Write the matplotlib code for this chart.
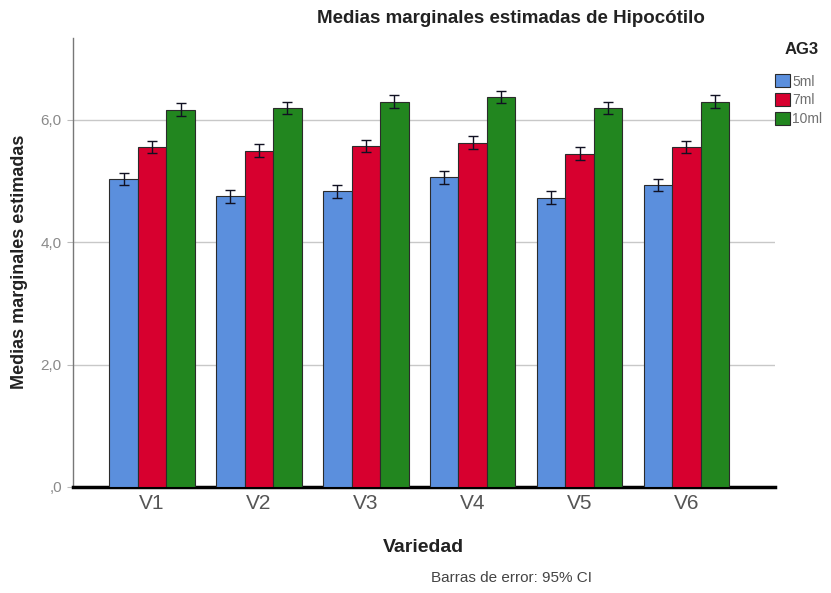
import matplotlib
matplotlib.use("Agg")
import matplotlib.pyplot as plt
import numpy as np

plt.rcParams['font.family'] = ['Liberation Sans', 'DejaVu Sans']

categories = ["V1", "V2", "V3", "V4", "V5", "V6"]
groups = ["5ml", "7ml", "10ml"]
means_5ml = [5.04, 4.75, 4.83, 5.06, 4.73, 4.94]
means_7ml = [5.56, 5.50, 5.58, 5.63, 5.45, 5.56]
means_10ml = [6.17, 6.19, 6.30, 6.38, 6.20, 6.30]
ci_5ml = [0.10, 0.10, 0.10, 0.10, 0.10, 0.10]
ci_7ml = [0.10, 0.10, 0.10, 0.10, 0.10, 0.10]
ci_10ml = [0.10, 0.10, 0.10, 0.10, 0.10, 0.10]
yticks = [0, 2, 4, 6]
ytick_labels = [",0", "2,0", "4,0", "6,0"]

colors = ["#5b8fdd", "#d7002f", "#22861f"]
edge = "#2b2b2b"

fig = plt.figure(figsize=(8.31, 5.93), dpi=100)
ax = fig.add_axes([0.0878, 0.1788, 0.845, 0.7572])

x = np.arange(len(categories))
w = 0.267
series = [(means_5ml, ci_5ml), (means_7ml, ci_7ml), (means_10ml, ci_10ml)]
handles = []
for i, (m, c) in enumerate(series):
    pos = x + (i - 1) * w
    b = ax.bar(pos, m, width=w, color=colors[i], edgecolor=edge, linewidth=0.8, zorder=3, label=groups[i])
    ax.errorbar(pos, m, yerr=c, fmt='none', ecolor='#111122', elinewidth=1.0, capsize=3.5, capthick=1.0, zorder=4)
    handles.append(b)

ax.set_xlim(-0.74, 5.83)
ax.set_ylim(0, 7.34)
ax.set_yticks(yticks)
ax.set_yticklabels(ytick_labels, color="#8a8a8a", fontsize=11)
ax.set_xticks(x)
ax.set_xticklabels(categories, color="#555555", fontsize=15)
ax.tick_params(axis='y', length=4, color="#bbbbbb", pad=4)
ax.tick_params(axis='x', length=0, pad=5)
ax.yaxis.grid(True, color="#c8c8c8", linewidth=1.0, zorder=0)
ax.set_axisbelow(True)
for s in ["top", "right"]:
    ax.spines[s].set_visible(False)
ax.spines["left"].set_color("#777777")
ax.spines["left"].set_linewidth(1.0)
ax.spines["bottom"].set_color("black")
ax.spines["bottom"].set_linewidth(2.5)

fig.text(0.024, 0.558, "Medias marginales estimadas", rotation=90, ha='center', va='center',
         fontsize=13, fontweight='bold', color="#222222")
fig.text(0.510, 0.076, "Variedad", ha='center', va='center',
         fontsize=14, fontweight='bold', color="#222222")

fig.text(0.615, 0.968, "Medias marginales estimadas de Hipocótilo", ha='center', va='center',
         fontsize=13.5, fontweight='bold', color="#222222")
fig.text(0.616, 0.026, "Barras de error: 95% CI", ha='center', va='center', fontsize=11, color="#444444")

fig.text(0.965, 1 - 50 / 593, "AG3", ha='center', va='center', fontsize=12, fontweight='bold', color="#222222")
leg = fig.legend(handles=handles, labels=groups, loc='upper left',
                 bbox_to_anchor=(774 / 831, 1 - 73 / 593), frameon=False, fontsize=10,
                 handlelength=1.05, handleheight=1.05, handletextpad=0.15, labelspacing=0.32,
                 borderpad=0.1, borderaxespad=0.0, labelcolor="#707070")

fig.savefig("out.png", dpi=100)
